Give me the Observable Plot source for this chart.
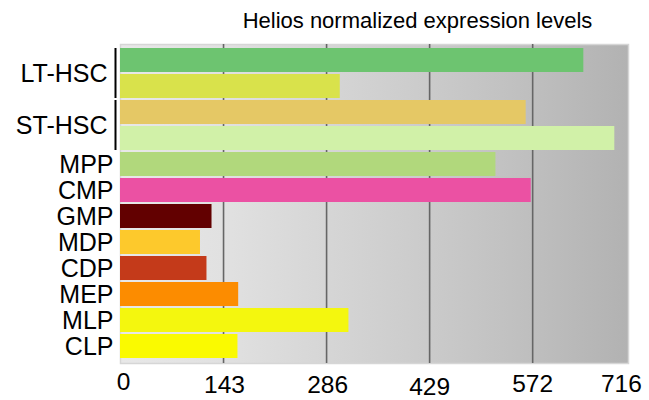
<!DOCTYPE html>
<html>
<head>
<meta charset="utf-8">
<script src="https://cdn.jsdelivr.net/npm/d3@7"></script>
<script src="https://cdn.jsdelivr.net/npm/@observablehq/plot@0.6"></script>
<style>
  html, body { margin: 0; padding: 0; background: #fff; }
  #chart svg { display: block; font-family: "Liberation Sans", Arial, sans-serif; }
</style>
</head>
<body>
<div id="chart"></div>
<script>
// ---- data ----
const title = "Helios normalized expression levels";
const categories = ["LT-HSC", "LT-HSC", "ST-HSC", "ST-HSC", "MPP", "CMP", "GMP", "MDP", "CDP", "MEP", "MLP", "CLP"];
const values = [643, 305, 563, 686, 521, 570, 127, 111, 120, 164, 317, 163];
const barColors = ["#6dc470", "#d9e24b", "#e5c865", "#d1f1a8", "#b1d87c", "#eb51a3", "#620000", "#fdc92c", "#c43a1a", "#fc8c00", "#f4f70e", "#fafa00"];
const tickValues = [0, 143, 286, 429, 572, 716];
const tickLabels = ["0", "143", "286", "429", "572", "716"];
const gridValues = [143, 286, 429, 572];
const xMax = 705;

// ---- derived tables ----
const rows = categories.map((c, i) => ({key: String(i), cat: c, value: values[i], color: barColors[i]}));
const counts = d3.rollup(categories, v => v.length, d => d);
const singles = rows.filter(r => counts.get(r.cat) === 1);
const groups = Array.from(d3.group(rows.filter(r => counts.get(r.cat) > 1), r => r.cat),
  ([cat, rs]) => ({cat, first: rs[0].key, last: rs[rs.length - 1].key}));

const W = 649, H = 400, mL = 120, mR = 21, mT = 44, mB = 37;
const step = (H - mT - mB) / rows.length;

// per-label nudges to mimic the reference's staggered tick labels
const tickDx = [3, 1, 1, 0, 0, -15];
const tickDy = [19, 22, 22, 24, 21, 21];

const marks = [
  Plot.frame({fill: "url(#bgGrad)", stroke: "#d6d6d6", strokeWidth: 1.5}),
  Plot.ruleX(gridValues, {stroke: "#666", strokeWidth: 1.6}),
  Plot.barX(rows, {x: "value", y: "key", fill: "color"}),
  Plot.ruleX(groups, {x: () => 0, y1: "first", y2: "last", dx: -5, stroke: "#000", strokeWidth: 2}),
  Plot.text(singles, {y: "key", text: "cat", frameAnchor: "left", textAnchor: "end", dx: -7, fontSize: 25, fill: "#000"}),
  Plot.text(groups, {y: "first", text: "cat", frameAnchor: "left", textAnchor: "end", dx: -13, dy: step / 2, fontSize: 25, fill: "#000"}),
  ...tickValues.map((t, i) => Plot.text([t], {x: d => d, text: () => tickLabels[i], frameAnchor: "bottom", lineAnchor: "middle", dx: tickDx[i], dy: tickDy[i], fontSize: 24.5, fill: "#000"})),
  Plot.text([title], {frameAnchor: "top", text: d => d, lineAnchor: "middle", dx: 43, dy: -24, fontSize: 22, fill: "#000"})
];

const chart = Plot.plot({
  width: W,
  height: H,
  marginLeft: mL,
  marginRight: mR,
  marginTop: mT,
  marginBottom: mB,
  style: {fontFamily: "'Liberation Sans', Arial, sans-serif", background: "#fff"},
  x: {domain: [0, xMax], axis: null},
  y: {domain: rows.map(r => r.key), axis: null, paddingInner: 0.06, paddingOuter: 0.03},
  color: {type: "identity"},
  marks
});

// gradient background definition
const ns = "http://www.w3.org/2000/svg";
const defs = document.createElementNS(ns, "defs");
const grad = document.createElementNS(ns, "linearGradient");
grad.setAttribute("id", "bgGrad");
grad.setAttribute("x1", "0"); grad.setAttribute("x2", "1");
grad.setAttribute("y1", "0"); grad.setAttribute("y2", "0");
[["0", "#e8e8e8"], ["0.2", "#e1e1e1"], ["0.4", "#d6d6d6"], ["0.6", "#cbcbcb"], ["0.8", "#bfbfbf"], ["1", "#b2b2b2"]].forEach(([o, c]) => {
  const s = document.createElementNS(ns, "stop");
  s.setAttribute("offset", o); s.setAttribute("stop-color", c);
  grad.appendChild(s);
});
defs.appendChild(grad);
chart.insertBefore(defs, chart.firstChild);

document.getElementById("chart").appendChild(chart);
</script>
</body>
</html>
